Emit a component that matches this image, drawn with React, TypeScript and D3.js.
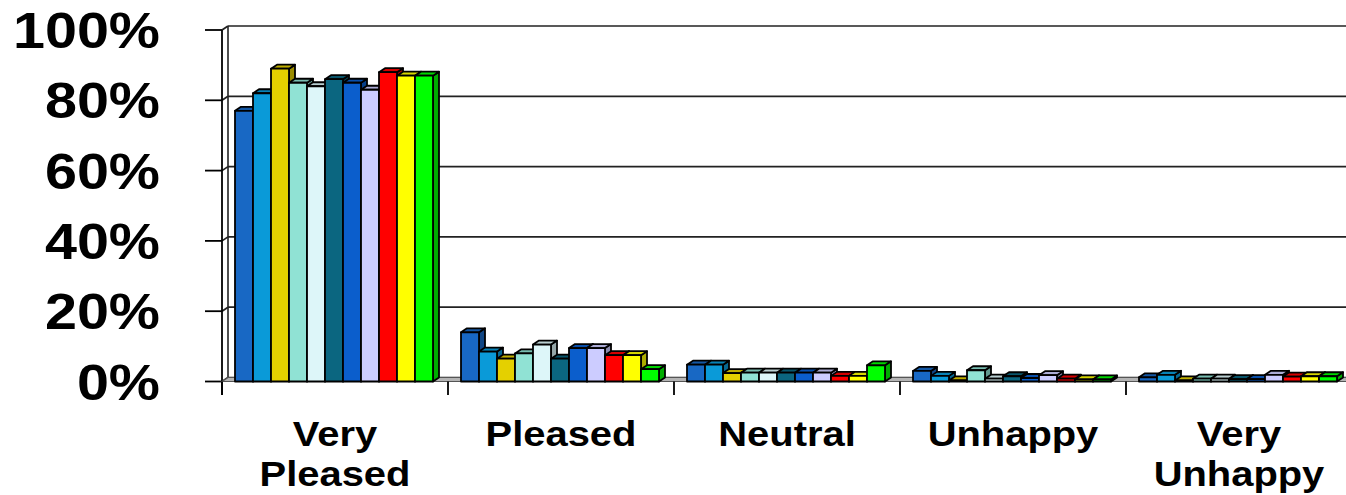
import React from "react";
import * as d3 from "d3";

const categories = [["Very", "Pleased"], ["Pleased"], ["Neutral"], ["Unhappy"], ["Very", "Unhappy"]];
const tickLabels = ["0%", "20%", "40%", "60%", "80%", "100%"];

// one value per series (11 series), per category
const veryPleased = [77, 82, 89, 85, 84, 86, 85, 83, 88, 87, 87];
const pleased = [14, 8.5, 6.5, 8, 10.5, 6.5, 9.5, 9.5, 7.5, 7.5, 3.5];
const neutral = [4.8, 4.8, 2.4, 2.5, 2.5, 2.5, 2.5, 2.5, 1.6, 1.6, 4.6];
const unhappy = [3, 1.6, 0.3, 3.2, 0.8, 1.5, 1, 1.8, 0.8, 0.6, 0.6];
const veryUnhappy = [1.2, 1.9, 0.3, 0.8, 0.8, 0.7, 0.7, 1.9, 1.4, 1.5, 1.5];
const colors = [
  "#1868c4", "#0a9ad8", "#e4d000", "#90e2d4", "#ddf6f9", "#0b6680",
  "#0b5ecc", "#ccccff", "#ff0000", "#ffff00", "#00ff00",
];

const values = [veryPleased, pleased, neutral, unhappy, veryUnhappy];

const W = 1346;
const H = 495;
const DX = 6; // depth offset
const DY = -4;

const App = () => {
  const x0 = d3.scaleBand().domain(d3.range(categories.length).map(String)).range([222, 1352]);
  const x1 = d3.scaleBand().domain(d3.range(colors.length).map(String)).range([13, 211]);
  const y = d3.scaleLinear().domain([0, 100]).range([381.5, 30]);
  const ticks = d3.range(0, 101, 20);
  const left = 222;
  const right = W + 10;
  const fy0 = y(0);

  const bars: JSX.Element[] = [];
  values.forEach((vals, ci) => {
    vals.forEach((v, si) => {
      const bx = x0(String(ci))! + x1(String(si))!;
      const bw = x1.bandwidth();
      const top = y(v);
      const c = d3.color(colors[si])!;
      const topCol = c.darker(0.5).toString();
      const sideCol = c.darker(1.1).toString();
      bars.push(
        <g key={ci + "-" + si} stroke="#000" strokeWidth={1.8} strokeLinejoin="round">
          <polygon
            points={`${bx + bw},${top} ${bx + bw + DX},${top + DY} ${bx + bw + DX},${fy0 + DY} ${bx + bw},${fy0}`}
            fill={sideCol}
          />
          <polygon
            points={`${bx},${top} ${bx + DX},${top + DY} ${bx + bw + DX},${top + DY} ${bx + bw},${top}`}
            fill={topCol}
          />
          <rect x={bx} y={top} width={bw} height={fy0 - top} fill={colors[si]} />
        </g>
      );
    });
  });

  return (
    <svg width={W} height={H} style={{ position: "absolute", left: 0, top: 0, background: "#fff" }}>
      {/* back wall */}
      <rect x={left + DX} y={y(100) + DY} width={right - left} height={fy0 - y(100)} fill="#fff" />
      {/* gridlines on back wall and side wall */}
      {ticks.map((t) => (
        <g key={t} stroke="#222" strokeWidth={1.7} fill="none">
          <line x1={left + DX} x2={right} y1={y(t) + DY} y2={y(t) + DY} />
          <line x1={left} x2={left + DX} y1={y(t)} y2={y(t) + DY} />
          <line x1={205} x2={left} y1={y(t)} y2={y(t)} stroke="#000" strokeWidth={1.8} />
        </g>
      ))}
      {/* side wall */}
      <line x1={left} x2={left} y1={y(100)} y2={395} stroke="#000" strokeWidth={1.8} />
      <line x1={left + DX} x2={left + DX} y1={y(100) + DY} y2={fy0 + DY} stroke="#222" strokeWidth={1.6} />
      {/* floor */}
      <polygon
        points={`${left},${fy0} ${left + DX},${fy0 + DY} ${right},${fy0 + DY} ${right},${fy0}`}
        fill="#b4b4b4"
        stroke="#555"
        strokeWidth={1.2}
      />
      {/* category ticks */}
      {d3.range(categories.length).map((i) => (
        <line key={i} x1={x0(String(i))} x2={x0(String(i))} y1={fy0} y2={395} stroke="#000" strokeWidth={1.8} />
      ))}
      {bars}
      {/* value labels */}
      {ticks.map((t, i) => (
        <text
          key={t}
          transform={`translate(160,${y(t) + 18}) scale(1.15,1)`}
          textAnchor="end"
          fontFamily="'Liberation Sans', Arial, sans-serif"
          fontWeight="bold"
          fontSize={50}
          fill="#000"
        >
          {tickLabels[i]}
        </text>
      ))}
      {/* category labels */}
      {categories.map((lines, i) => {
        const cx = x0(String(i))! + x0.bandwidth() / 2;
        return lines.map((ln, j) => (
          <text
            key={i + "-" + j}
            transform={`translate(${cx},${446 + j * 40}) scale(1.14,1)`}
            textAnchor="middle"
            fontFamily="'Liberation Sans', Arial, sans-serif"
            fontWeight="bold"
            fontSize={35}
            fill="#000"
          >
            {ln}
          </text>
        ));
      })}
    </svg>
  );
};

export default App;
